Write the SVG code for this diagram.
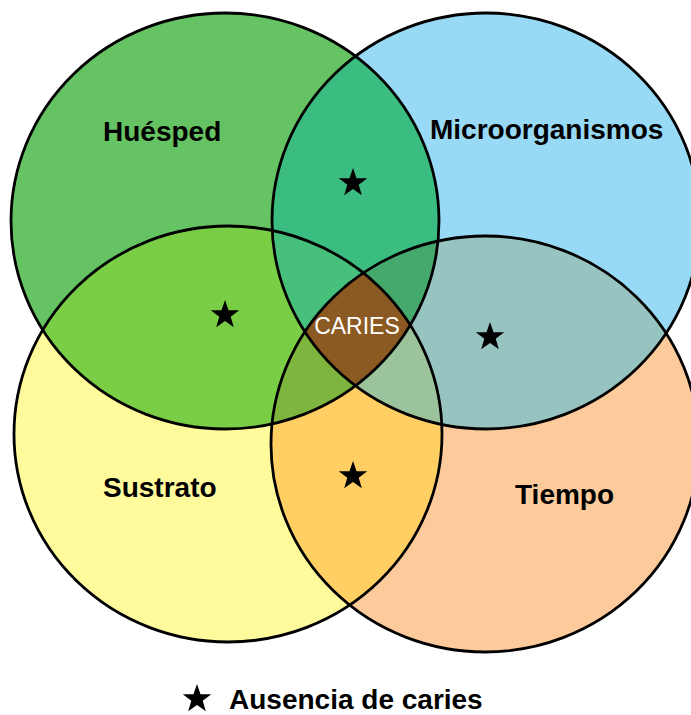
<svg xmlns="http://www.w3.org/2000/svg" xmlns:xlink="http://www.w3.org/1999/xlink" width="691" height="715" viewBox="0 0 691 715">
  <style>
    .lbl { font-family: "Liberation Sans", Arial, sans-serif; font-weight: bold; font-size: 28px; fill: #000; }
    .center { font-family: "Liberation Sans", Arial, sans-serif; font-size: 23px; fill: #fff; text-anchor: middle; }
    .outline { fill: none; stroke: #000; stroke-width: 2.8; }
    .star { fill: #000; }
  </style>
  <defs>
    <ellipse id="eG" cx="225" cy="221" rx="214" ry="208"/>
    <ellipse id="eB" cx="486" cy="221" rx="214" ry="208"/>
    <ellipse id="eY" cx="228" cy="434" rx="214" ry="208"/>
    <ellipse id="eO" cx="485" cy="444" rx="214" ry="208"/>
    <clipPath id="cG"><use xlink:href="#eG"/></clipPath>
    <clipPath id="cB"><use xlink:href="#eB"/></clipPath>
    <clipPath id="cY"><use xlink:href="#eY"/></clipPath>
    <clipPath id="cO"><use xlink:href="#eO"/></clipPath>
    <path id="star" d="M0,-15 L3.53,-4.85 L14.27,-4.64 L5.71,1.85 L8.82,12.14 L0,6 L-8.82,12.14 L-5.71,1.85 L-14.27,-4.64 L-3.53,-4.85 Z"/>
  </defs>

  <rect width="691" height="715" fill="#fff"/>

  <g id="regions">
    <use xlink:href="#eG" fill="#65C364"/>
    <use xlink:href="#eB" fill="#98DAF5"/>
    <use xlink:href="#eY" fill="#FFFA9B"/>
    <use xlink:href="#eO" fill="#FDCB9B"/>
    <g clip-path="url(#cG)"><use xlink:href="#eB" fill="#3BBC80"/></g>
    <g clip-path="url(#cG)"><use xlink:href="#eY" fill="#7ACE46"/></g>
    <g clip-path="url(#cB)"><use xlink:href="#eO" fill="#97C3C1"/></g>
    <g clip-path="url(#cY)"><use xlink:href="#eO" fill="#FFCF64"/></g>
    <g clip-path="url(#cG)"><g clip-path="url(#cB)"><use xlink:href="#eY" fill="#46C07A"/></g></g>
    <g clip-path="url(#cG)"><g clip-path="url(#cB)"><use xlink:href="#eO" fill="#45A86C"/></g></g>
    <g clip-path="url(#cG)"><g clip-path="url(#cY)"><use xlink:href="#eO" fill="#7DB53E"/></g></g>
    <g clip-path="url(#cB)"><g clip-path="url(#cY)"><use xlink:href="#eO" fill="#9CC49C"/></g></g>
    <g clip-path="url(#cG)"><g clip-path="url(#cB)"><g clip-path="url(#cY)"><use xlink:href="#eO" fill="#8B5A22"/></g></g></g>
  </g>

  <g id="connectors"></g>

  <g id="huesped">
    <use xlink:href="#eG" class="outline"/>
    <text class="lbl" x="103" y="141">Huésped</text>
  </g>
  <g id="microorganismos">
    <use xlink:href="#eB" class="outline"/>
    <text class="lbl" x="430" y="139">Microorganismos</text>
  </g>
  <g id="sustrato">
    <use xlink:href="#eY" class="outline"/>
    <text class="lbl" x="103" y="497">Sustrato</text>
  </g>
  <g id="tiempo">
    <use xlink:href="#eO" class="outline"/>
    <text class="lbl" x="515" y="504">Tiempo</text>
  </g>
  <g id="caries">
    <text class="center" x="357" y="334">CARIES</text>
  </g>

  <g id="stars">
    <use xlink:href="#star" class="star" x="353" y="183"/>
    <use xlink:href="#star" class="star" x="225" y="315"/>
    <use xlink:href="#star" class="star" x="490" y="337"/>
    <use xlink:href="#star" class="star" x="353" y="476"/>
  </g>

  <g id="legend">
    <use xlink:href="#star" class="star" x="197" y="699"/>
    <text class="lbl" x="229" y="709">Ausencia de caries</text>
  </g>
</svg>
